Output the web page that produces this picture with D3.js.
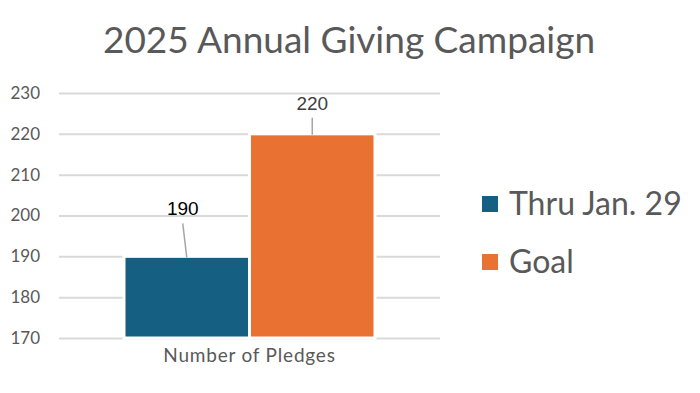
<!DOCTYPE html>
<html><head><meta charset="utf-8">
<script src="https://cdn.jsdelivr.net/npm/d3@7"></script>
<style>body{margin:0;background:#fff}svg{display:block}</style>
</head><body>
<svg id="c" width="700" height="393"></svg>
<script>
const title = "2025 Annual Giving Campaign";
const category = "Number of Pledges";
const seriesNames = ["Thru Jan. 29", "Goal"];
const seriesValues = [190, 220];
const seriesColors = ["#156082", "#E97132"];
const yTicks = [170, 180, 190, 200, 210, 220, 230];
const labelColors = ["#000000", "#404040"];

const svg = d3.select("#c");
const font = "Lato, 'Open Sans', sans-serif";
const grey = "#595959";

const y = d3.scaleLinear().domain([170, 230]).range([338, 93]);
const x0 = d3.scaleBand().domain([category]).range([59, 440]).paddingInner(0).paddingOuter(0.259);
const x1 = d3.scaleBand().domain(seriesNames).range([0, x0.bandwidth()]).padding(0);

svg.append("text").attr("x", 349).attr("y", 53).attr("text-anchor", "middle")
  .attr("font-family", font).attr("font-size", 37).attr("fill", grey).text(title);

const yAxis = d3.axisLeft(y).tickValues(yTicks).tickSize(-(440 - 59)).tickPadding(19);
const gy = svg.append("g").attr("transform", "translate(59,0)").call(yAxis);
gy.select(".domain").remove();
gy.selectAll(".tick line").attr("stroke", "#d9d9d9").attr("stroke-width", 2);
gy.selectAll(".tick text").attr("font-family", font).attr("font-size", 17).attr("fill", grey);

const g = svg.append("g").attr("transform", `translate(${x0(category)},0)`);
g.selectAll("rect").data(seriesValues).join("rect")
  .attr("x", (d, i) => x1(seriesNames[i]))
  .attr("y", d => y(d))
  .attr("width", x1.bandwidth())
  .attr("height", d => y(170) - y(d))
  .attr("fill", (d, i) => seriesColors[i])
  .attr("stroke", "#fff").attr("stroke-width", 3);

// data labels with leader lines
const labelOffsets = [[-4, -50], [0, -33]];
seriesValues.forEach((v, i) => {
  const cx = x1(seriesNames[i]) + x1.bandwidth() / 2;
  const ox = labelOffsets[i][0], oy = labelOffsets[i][1];
  g.append("line").attr("x1", cx).attr("y1", y(v) + 1)
    .attr("x2", cx + ox).attr("y2", y(v) + oy + 17)
    .attr("stroke", "#a6a6a6").attr("stroke-width", 1.5);
  g.append("text").attr("x", cx + ox).attr("y", y(v) + oy + 9)
    .attr("text-anchor", "middle").attr("font-family", "'Liberation Sans', Arial, sans-serif")
    .attr("font-size", 19).attr("fill", labelColors[i]).text(v);
});

svg.append("text").attr("x", x0(category) + x0.bandwidth() / 2).attr("y", 362)
  .attr("text-anchor", "middle").attr("font-family", font).attr("font-size", 19)
  .attr("letter-spacing", 0.8).attr("fill", grey).text(category);

const leg = svg.append("g");
seriesNames.forEach((n, i) => {
  const yy = 204 + i * 58;
  leg.append("rect").attr("x", 482).attr("y", yy - 8).attr("width", 16).attr("height", 16)
    .attr("fill", seriesColors[i]);
  leg.append("text").attr("x", 509).attr("y", yy + 11).attr("font-family", font)
    .attr("font-size", 32).attr("fill", grey).text(n);
});
</script>
</body></html>
